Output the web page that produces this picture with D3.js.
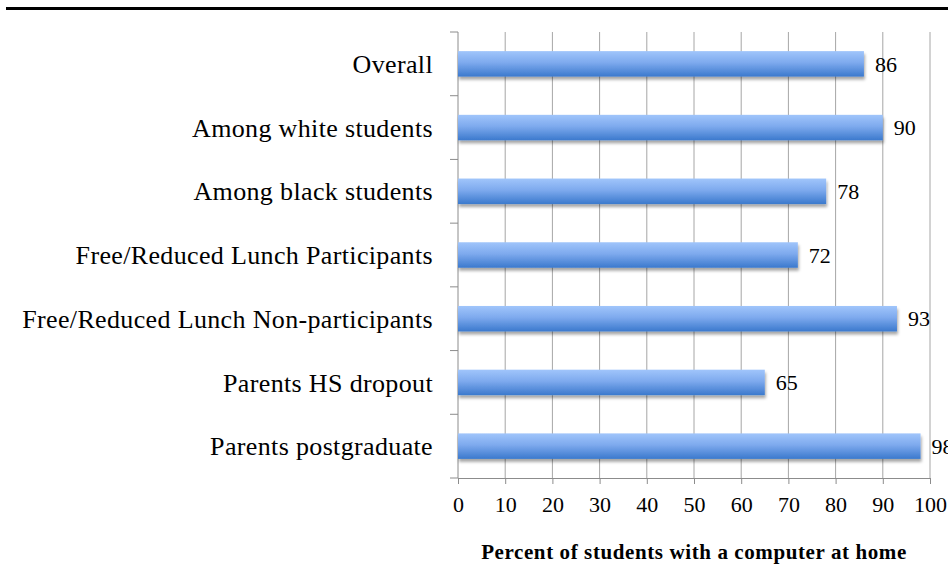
<!DOCTYPE html>
<html>
<head>
<meta charset="utf-8">
<script src="https://cdn.jsdelivr.net/npm/d3@7"></script>
<style>
  body { margin: 0; background: #fff; overflow: hidden; }
  svg { display: block; }
</style>
</head>
<body>
<div id="chart"></div>
<script>
const categories = [
  "Overall",
  "Among white students",
  "Among black students",
  "Free/Reduced Lunch Participants",
  "Free/Reduced Lunch Non-participants",
  "Parents HS dropout",
  "Parents postgraduate"
];
const values = [86, 90, 78, 72, 93, 65, 98];
const ticks = [0, 10, 20, 30, 40, 50, 60, 70, 80, 90, 100];
const axisTitle = "Percent of students with a computer at home";

const width = 948;
const height = 575;
const margin = { top: 32, right: 18, bottom: 97, left: 458 };

const svg = d3.select("#chart").append("svg")
    .attr("width", width)
    .attr("height", height);

const defs = svg.append("defs");
const grad = defs.append("linearGradient")
    .attr("id", "barGrad")
    .attr("x1", 0).attr("y1", 0).attr("x2", 0).attr("y2", 1);
grad.append("stop").attr("offset", "0%").attr("stop-color", "#a0c5fb");
grad.append("stop").attr("offset", "45%").attr("stop-color", "#7eaaee");
grad.append("stop").attr("offset", "100%").attr("stop-color", "#3b79cd");

const shadow = defs.append("filter")
    .attr("id", "shadow")
    .attr("x", "-5%").attr("y", "-30%")
    .attr("width", "110%").attr("height", "180%");
shadow.append("feDropShadow")
    .attr("dx", 1).attr("dy", 3)
    .attr("stdDeviation", 1.8)
    .attr("flood-color", "#000")
    .attr("flood-opacity", 0.35);

// top rule
svg.append("line")
    .attr("x1", 6).attr("x2", width)
    .attr("y1", 8.5).attr("y2", 8.5)
    .attr("stroke", "#000")
    .attr("stroke-width", 3);

const x = d3.scaleLinear()
    .domain([0, 100])
    .range([margin.left, width - margin.right]);

const y = d3.scaleBand()
    .domain(categories)
    .range([margin.top, height - margin.bottom])
    .paddingInner(0.6)
    .paddingOuter(0.3);

const plotTop = margin.top;
const plotBottom = height - margin.bottom;

// vertical gridlines
svg.append("g")
    .selectAll("line")
    .data(ticks.slice(1))
    .join("line")
    .attr("x1", d => x(d)).attr("x2", d => x(d))
    .attr("y1", plotTop).attr("y2", plotBottom)
    .attr("stroke", "#a6a6a6")
    .attr("stroke-width", 1);

// left axis with ticks at band boundaries
const step = (plotBottom - plotTop) / categories.length;
const bounds = d3.range(categories.length + 1).map(i => plotTop + i * step);
const left = svg.append("g");
left.append("line")
    .attr("x1", x(0)).attr("x2", x(0))
    .attr("y1", plotTop).attr("y2", plotBottom)
    .attr("stroke", "#8c8c8c");
left.selectAll("line.tk")
    .data(bounds)
    .join("line")
    .attr("class", "tk")
    .attr("x1", x(0) - 8).attr("x2", x(0))
    .attr("y1", d => d).attr("y2", d => d)
    .attr("stroke", "#8c8c8c");

// bottom axis
const xAxis = svg.append("g")
    .attr("transform", `translate(0,${plotBottom})`)
    .call(d3.axisBottom(x).tickValues(ticks).tickSize(6).tickPadding(12).tickSizeOuter(0));
xAxis.select(".domain").attr("stroke", "#8c8c8c");
xAxis.selectAll(".tick line").attr("stroke", "#8c8c8c");
xAxis.selectAll("text")
    .attr("fill", "#000")
    .style("font-family", "'Liberation Serif', 'Times New Roman', serif")
    .style("font-size", "22px");

// category labels
svg.append("g")
    .selectAll("text")
    .data(categories)
    .join("text")
    .attr("x", 433)
    .attr("y", d => y(d) + y.bandwidth() / 2)
    .attr("dy", "0.35em")
    .attr("text-anchor", "end")
    .style("font-family", "'Liberation Serif', 'Times New Roman', serif")
    .style("font-size", "26px")
    .style("letter-spacing", "0.35px")
    .attr("fill", "#000")
    .text(d => d);

// bars
svg.append("g")
    .selectAll("rect")
    .data(values)
    .join("rect")
    .attr("x", x(0))
    .attr("y", (d, i) => y(categories[i]))
    .attr("width", d => x(d) - x(0))
    .attr("height", y.bandwidth())
    .attr("fill", "url(#barGrad)")
    .attr("filter", "url(#shadow)");

// value labels
svg.append("g")
    .selectAll("text")
    .data(values)
    .join("text")
    .attr("x", d => x(d) + 11)
    .attr("y", (d, i) => y(categories[i]) + y.bandwidth() / 2)
    .attr("dy", "0.35em")
    .style("font-family", "'Liberation Serif', 'Times New Roman', serif")
    .style("font-size", "22px")
    .attr("fill", "#000")
    .text(d => d);

// axis title
svg.append("text")
    .attr("x", 694)
    .attr("y", 552)
    .attr("dy", "0.35em")
    .attr("text-anchor", "middle")
    .style("font-family", "'Liberation Serif', 'Times New Roman', serif")
    .style("font-size", "21px")
    .style("letter-spacing", "0.6px")
    .style("font-weight", "bold")
    .attr("fill", "#000")
    .text(axisTitle);
</script>
</body>
</html>
